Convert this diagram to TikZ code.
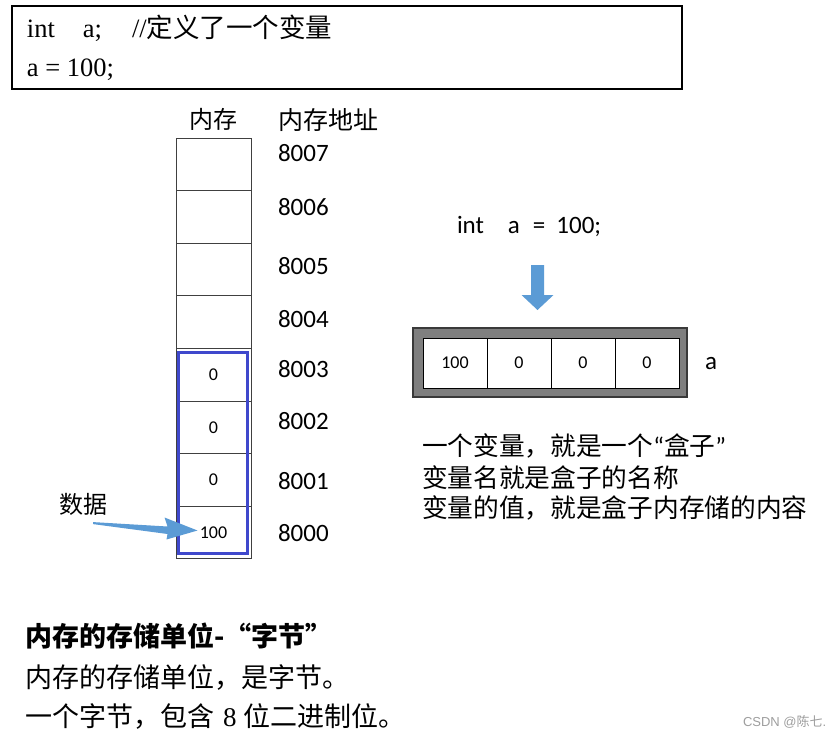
\documentclass[tikz,border=0pt]{standalone}
\usepackage{fontspec}
\setmainfont{Liberation Serif}
\newfontfamily\cjk{Noto Sans CJK SC}
\newfontfamily\cali{Carlito}
\newfontfamily\lsans{Liberation Sans}
\usetikzlibrary{calc}
\definecolor{boxblue}{HTML}{3F48CC}
\definecolor{arrblue}{HTML}{5B9BD5}
\definecolor{framegray}{HTML}{7F7F7F}
\definecolor{framedark}{HTML}{3A3A3A}
\begin{document}
\begin{tikzpicture}[x=1pt,y=-1pt,
  every node/.style={inner sep=0pt,outer sep=0pt},
  memcell/.style={draw=black!75,line width=0.9pt,minimum width=75pt,minimum height=52.6pt,font=\cali\fontsize{18}{20}\selectfont},
  addr/.style={anchor=base west,font=\cali\fontsize{25}{28}\selectfont},
  boxcell/.style={draw=black,line width=0.7pt,fill=white,minimum width=64pt,minimum height=50pt,font=\cali\fontsize{18}{20}\selectfont},
  cjktext/.style={anchor=west,font=\cjk\fontsize{25.7}{28}\selectfont},
  bottomtext/.style={anchor=west,font=\fontsize{27}{30}\selectfont}
]
\useasboundingbox (0,0) rectangle (837,738);
\fill[white] (0,0) rectangle (837,738);

% code box
\draw[line width=1.2pt] (12,6) rectangle (682,89);
\node[anchor=base west,font=\fontsize{26.5}{28}\selectfont] (code1) at (27,38) {int\hspace{28pt}a;\hspace{30pt}//{\cjk 定义了一个变量}};
\node[anchor=base west,font=\fontsize{26.5}{28}\selectfont] (code2) at (27,77) {a = 100;};

% memory column headers
\node[font=\cjk\fontsize{24}{26}\selectfont] (memlab) at (213,119) {内存};
\node[anchor=west,font=\cjk\fontsize{25}{26}\selectfont] (addrlab) at (278,120) {内存地址};

% memory cells
\node[memcell] (m7) at (213.5,164.3) {};
\node[memcell] (m6) at (213.5,216.9) {};
\node[memcell] (m5) at (213.5,269.5) {};
\node[memcell] (m4) at (213.5,322.1) {};
\node[memcell] (m3) at (213.5,374.7) {0};
\node[memcell] (m2) at (213.5,427.3) {0};
\node[memcell] (m1) at (213.5,479.9) {0};
\node[memcell] (m0) at (213.5,532.5) {100};

% addresses
\node[addr] (a7) at (278,162) {8007};
\node[addr] (a6) at (278,215) {8006};
\node[addr] (a5) at (278,274) {8005};
\node[addr] (a4) at (278,327) {8004};
\node[addr] (a3) at (278,377) {8003};
\node[addr] (a2) at (278,429) {8002};
\node[addr] (a1) at (278,489) {8001};
\node[addr] (a0) at (278,541) {8000};

% blue group rectangle
\draw[boxblue,line width=3pt] (178.5,352) rectangle (247.5,553);

% data label and tapered arrow
\node[font=\cjk\fontsize{24}{26}\selectfont] (data) at (83,504) {数据};
\coordinate (tail) at ($(data.south)+(10,7)$);
\coordinate (tip) at ($(m0.center)+(-16,-2)$);
\fill[arrblue] (tail) -- ($(tip)+(-30,-4)$) -- ($(tip)+(-33,-13)$) -- (tip)
  -- ($(tip)+(-31,9)$) -- ($(tip)+(-30,3.5)$) -- ($(tail)+(0,2)$) -- cycle;

% right side
\node[anchor=west,font=\cali\fontsize{25}{28}\selectfont] (decl) at (457,226) {int\hspace{24pt}a\hspace{13pt}=\hspace{11pt}100;};
\coordinate (dtop) at (537.5,265);
\fill[arrblue] ($(dtop)+(-6.5,0)$) -- ($(dtop)+(6.5,0)$) -- ($(dtop)+(6.5,30)$) -- ($(dtop)+(16,30)$)
  -- ($(dtop)+(0,45)$) -- ($(dtop)+(-16,30)$) -- ($(dtop)+(-6.5,30)$) -- cycle;

\draw[fill=framegray,draw=framedark,line width=1.5pt] (413,328) rectangle (687,397);
\node[boxcell] (b0) at (455,363) {100};
\node[boxcell] (b1) at (519,363) {0};
\node[boxcell] (b2) at (583,363) {0};
\node[boxcell] (b3) at (647,363) {0};
\node[anchor=west,font=\cali\fontsize{25}{26}\selectfont] (avar) at (705,364) {a};

\node[cjktext] (t1) at (422,446) {一个变量，就是一个{\cali“}盒子{\cali”}};
\node[cjktext] (t2) at (422,478) {变量名就是盒子的名称};
\node[cjktext] (t3) at (422,508) {变量的值，就是盒子内存储的内容};

% bottom text
\node[bottomtext] (h1) at (25,636) {\cjk\bfseries 内存的存储单位-“字节”};
\node[bottomtext] (h2) at (25,678) {\cjk 内存的存储单位，是字节。};
\node[bottomtext] (h3) at (25,717) {{\cjk 一个字节，包含}\hspace{9pt}8\hspace{7pt}{\cjk 位二进制位。}};

\node[anchor=west,text=black!38,font=\lsans\fontsize{13}{14}\selectfont] (wm) at (743,722) {CSDN @{\cjk 陈七}.};
\end{tikzpicture}
\end{document}
